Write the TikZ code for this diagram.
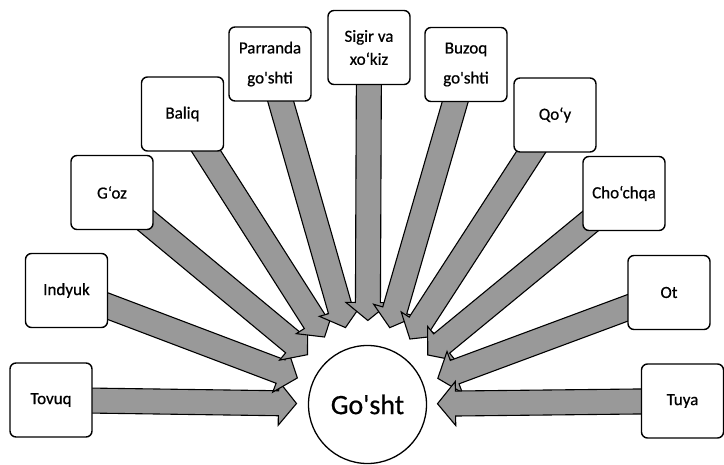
\documentclass[tikz,border=0pt]{standalone}
\usepackage{fontspec}
\setmainfont{Carlito}[FakeBold=0.7]
\usetikzlibrary{calc,backgrounds}
\tikzset{
  box/.style={draw, line width=1.4pt, rounded corners=6pt, fill=white,
    minimum width=82pt, minimum height=74pt, align=center, inner sep=2pt,
    font=\fontsize{17}{30}\selectfont},
  barrow/.style={draw, line width=1.1pt, fill=black!40, line join=miter},
  hub/.style={draw, circle, line width=1.3pt, fill=white, minimum size=118pt,
    inner sep=0pt, font=\fontsize{28}{30}\selectfont}
}
\newcommand{\blockarr}[2]{%
  \coordinate (ba) at (#1.center);
  \coordinate (bt) at (#2);
  \coordinate (bn) at ($(bt)!18pt!(ba)$);
  \draw[barrow] ($(ba)!12.5pt!90:(bt)$) -- ($(bn)!12.5pt!-90:(ba)$)
    -- ($(bn)!22pt!-90:(ba)$) -- (bt) -- ($(bn)!22pt!90:(ba)$)
    -- ($(bn)!12.5pt!90:(ba)$) -- ($(ba)!12.5pt!-90:(bt)$) -- cycle;}
\begin{document}
\begin{tikzpicture}[x=1pt,y=-1pt]
\useasboundingbox (0,0) rectangle (724,465);
\node[hub] (gosht) at (367.5,404.5) {Go\textquotesingle sht};
\node[box] (tovuq) at (51,400) {Tovuq};
\node[box] (indyuk) at (66.5,290.5) {Indyuk};
\node[box] (goz) at (112,192.5) {G`oz};
\node[box] (baliq) at (182.5,114) {Baliq};
\node[box] (parranda) at (270,64) {Parranda\\go\textquotesingle shti};
\node[box, font=\fontsize{17}{23}\selectfont] (sigir) at (369,47.5) {Sigir va\\xo`kiz};
\node[box] (buzoq) at (466,64.5) {Buzoq\\go\textquotesingle shti};
\node[box] (qoy) at (555,115) {Qo`y};
\node[box] (chochqa) at (624,193.5) {Cho`chqa};
\node[box] (ot) at (669,292.5) {Ot};
\node[box] (tuya) at (682.5,401) {Tuya};
\coordinate (t1) at ($(gosht.center)!71pt!(tovuq.center)$);
\coordinate (t2) at ($(gosht.center)!75pt!(indyuk.center)$);
\coordinate (t3) at ($(gosht.center)!78pt!(goz.center)$);
\coordinate (t4) at ($(gosht.center)!80pt!(baliq.center)$);
\coordinate (t5) at ($(gosht.center)!80pt!(parranda.center)$);
\coordinate (t6) at ($(gosht.center)!84pt!(sigir.center)$);
\coordinate (t7) at ($(gosht.center)!80pt!(buzoq.center)$);
\coordinate (t8) at ($(gosht.center)!78pt!(qoy.center)$);
\coordinate (t9) at ($(gosht.center)!78pt!(chochqa.center)$);
\coordinate (t10) at ($(gosht.center)!75pt!(ot.center)$);
\coordinate (t11) at ($(gosht.center)!70pt!(tuya.center)$);
\begin{scope}[on background layer]
\blockarr{tovuq}{t1}
\blockarr{indyuk}{t2}
\blockarr{goz}{t3}
\blockarr{baliq}{t4}
\blockarr{parranda}{t5}
\blockarr{sigir}{t6}
\blockarr{buzoq}{t7}
\blockarr{qoy}{t8}
\blockarr{chochqa}{t9}
\blockarr{ot}{t10}
\blockarr{tuya}{t11}
\end{scope}
\end{tikzpicture}
\end{document}
